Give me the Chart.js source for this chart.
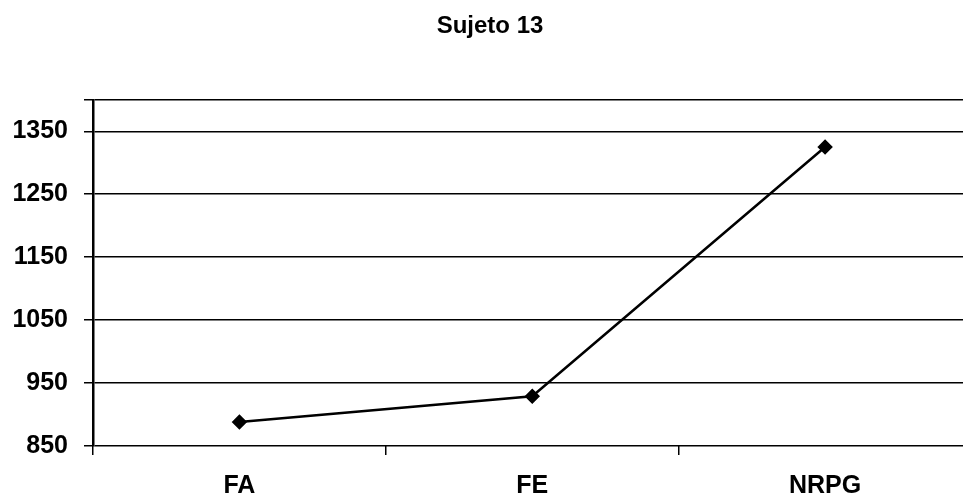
<!DOCTYPE html>
<html>
<head>
<meta charset="utf-8">
<script src="https://cdn.jsdelivr.net/npm/chart.js@4"></script>
<style>
    html, body { margin: 0; padding: 0; background: #fff; overflow: hidden; }
    #wrap { width: 980px; height: 499px; }
</style>
</head>
<body>
<div id="wrap"><canvas id="chart"></canvas></div>
<script>
// Data
const categories = ['FA', 'FE', 'NRPG'];
const tiempos = [888, 929, 1325];
const yTicks = [850, 950, 1050, 1150, 1250, 1350, 1400];

const FONT = '"Liberation Sans", Arial, sans-serif';

new Chart(document.getElementById('chart'), {
    type: 'line',
    data: {
        labels: categories,
        datasets: [{
            label: 'Sujeto 13',
            data: tiempos,
            borderColor: '#000',
            backgroundColor: '#000',
            borderWidth: 2.5,
            pointStyle: 'rectRot',
            pointRadius: 6,
            pointHoverRadius: 6,
            tension: 0,
        }],
    },
    options: {
        responsive: true,
        maintainAspectRatio: false,
        animation: false,
        layout: { padding: { left: 0, right: 0, top: 0, bottom: 0 } },
        plugins: {
            legend: { display: false },
            tooltip: { enabled: false },
            title: {
                display: true,
                text: 'Sujeto 13',
                color: '#000',
                font: { family: FONT, size: 24, weight: 'bold' },
                padding: { top: 12, bottom: 59 },
            },
        },
        scales: {
            x: {
                offset: true,
                afterFit: (axis) => { axis.height = 53; },
                grid: {
                    offset: true,
                    drawOnChartArea: false,
                    drawTicks: true,
                    tickLength: 9,
                    color: '#000',
                    lineWidth: 1.5,
                },
                border: { display: false },
                ticks: {
                    color: '#000',
                    padding: 19,
                    maxRotation: 0,
                    font: { family: FONT, size: 25, weight: 'bold', lineHeight: 1 },
                },
            },
            y: {
                min: 850,
                max: 1400,
                afterBuildTicks: (axis) => {
                    axis.ticks = yTicks.map(v => ({ value: v }));
                },
                afterFit: (axis) => { axis.width = 93; },
                grid: {
                    color: '#000',
                    lineWidth: 1.5,
                    tickLength: 9,
                },
                border: { color: '#000', width: 2.5 },
                ticks: {
                    color: '#000',
                    padding: 16,
                    font: { family: FONT, size: 25, weight: 'bold' },
                    callback: (v) => (v === 1400 ? '' : v),
                },
            },
        },
    },
});
</script>
</body>
</html>
